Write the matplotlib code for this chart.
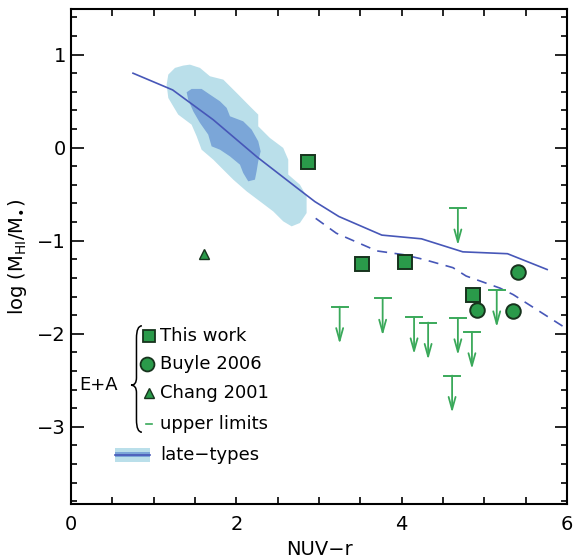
import matplotlib
matplotlib.use("Agg")
import matplotlib.pyplot as plt
from matplotlib.patches import Polygon, Rectangle
from matplotlib.path import Path
from matplotlib.patches import PathPatch
from matplotlib.ticker import MultipleLocator

# ---------------- data ----------------
# late-type median relation (solid) and extension (dashed)
late_x = [0.75, 1.23, 1.72, 2.25, 2.73, 2.95, 3.24, 3.76, 4.24, 4.74, 5.28, 5.76]
late_y = [0.80, 0.62, 0.30, -0.10, -0.43, -0.58, -0.74, -0.94, -0.98, -1.12, -1.14, -1.31]
dash_x = [2.96, 3.21, 3.70, 4.02, 4.26, 4.62, 4.78, 5.19, 5.35, 5.95]
dash_y = [-0.76, -0.92, -1.11, -1.15, -1.20, -1.29, -1.38, -1.51, -1.58, -1.92]

# late-type density contours (outer / inner)
outer_x = [1.439, 1.560, 1.681, 1.842, 2.004, 2.164, 2.265, 2.265, 2.406, 2.567, 2.628, 2.628,
           2.769, 2.850, 2.850, 2.769, 2.669, 2.567, 2.446, 2.285, 2.125, 1.963, 1.842, 1.721,
           1.580, 1.520, 1.459, 1.378, 1.297, 1.237, 1.177, 1.157, 1.177, 1.258, 1.358]
outer_y = [0.892, 0.857, 0.767, 0.731, 0.588, 0.444, 0.355, 0.229, 0.104, -0.003, -0.129, -0.290,
           -0.398, -0.524, -0.703, -0.810, -0.846, -0.792, -0.685, -0.577, -0.470, -0.344, -0.237, -0.129,
           -0.022, 0.122, 0.247, 0.301, 0.355, 0.444, 0.534, 0.677, 0.785, 0.857, 0.882]
inner_x = [1.459, 1.580, 1.681, 1.802, 1.883, 1.923, 2.083, 2.185, 2.265, 2.294, 2.265, 2.245,
           2.225, 2.144, 2.083, 2.044, 1.923, 1.802, 1.701, 1.660, 1.560, 1.479, 1.418, 1.399]
inner_y = [0.631, 0.631, 0.570, 0.498, 0.427, 0.337, 0.283, 0.194, 0.068, -0.040, -0.147, -0.255,
           -0.344, -0.362, -0.272, -0.183, -0.094, -0.022, 0.014, 0.140, 0.266, 0.390, 0.516, 0.595]

# E+A samples
this_x = [2.87, 3.52, 4.04, 4.86]
this_y = [-0.15, -1.25, -1.23, -1.58]
buyle_x = [4.91, 5.35, 5.41]
buyle_y = [-1.75, -1.76, -1.34]
chang_x = [1.61]
chang_y = [-1.14]
ul_x = [3.25, 3.77, 4.15, 4.32, 4.68, 4.68, 4.85, 4.61, 5.15]
ul_y = [-1.71, -1.62, -1.82, -1.88, -0.65, -1.83, -1.98, -2.45, -1.53]

# ---------------- style ----------------
light_blue = "#badfea"
mid_blue = "#7ba6d8"
line_blue = "#4757b8"
green = "#2a9a4a"
edge = "#17331d"
ul_green = "#3aa95a"

fig = plt.figure(figsize=(5.74, 5.58), dpi=100)
ax = fig.add_axes([71/574, 54/558, 496/574, 495/558])
ax.set_xlim(0, 6)
ax.set_ylim(-3.83, 1.49)

ax.add_patch(Polygon(list(zip(outer_x, outer_y)), closed=True, fc=light_blue, ec="none", zorder=1))
ax.add_patch(Polygon(list(zip(inner_x, inner_y)), closed=True, fc=mid_blue, ec="none", zorder=2))
ax.plot(late_x, late_y, color=line_blue, lw=1.2, zorder=3)
ax.plot(dash_x, dash_y, color=line_blue, lw=1.2, ls=(0, (6, 4.5)), zorder=3)

# upper limits
for x, y in zip(ul_x, ul_y):
    ax.plot([x - 0.095, x + 0.095], [y, y], color=ul_green, lw=1.4, zorder=4)
    ax.annotate("", xy=(x, y - 0.40), xytext=(x, y),
                arrowprops=dict(arrowstyle="->,head_length=0.9,head_width=0.25",
                                color=ul_green, lw=1.3, shrinkA=0, shrinkB=0), zorder=4)

ax.plot(this_x, this_y, ls="none", marker="s", ms=10, mfc=green, mec=edge, mew=1.4, zorder=5)
ax.plot(buyle_x, buyle_y, ls="none", marker="o", ms=10.5, mfc=green, mec=edge, mew=1.4, zorder=5)
ax.plot(chang_x, chang_y, ls="none", marker="^", ms=7, mfc=green, mec=edge, mew=1.0, zorder=5)

# ---------------- axes ----------------
for s in ax.spines.values():
    s.set_linewidth(1.5)
ax.xaxis.set_major_locator(MultipleLocator(2))
ax.xaxis.set_minor_locator(MultipleLocator(0.5))
ax.yaxis.set_major_locator(MultipleLocator(1))
ax.yaxis.set_minor_locator(MultipleLocator(0.2))
ax.tick_params(which="both", direction="in", top=True, right=True, width=1.2, labelsize=14)
ax.tick_params(axis="x", which="both", length=5)
ax.tick_params(axis="y", which="major", length=9)
ax.tick_params(axis="y", which="minor", length=4.5)
ax.tick_params(axis="x", pad=8)
ax.set_yticks([-3, -2, -1, 0, 1])
ax.set_yticklabels(["\u22123", "\u22122", "\u22121", "0", "1"])
ax.set_xticks([0, 2, 4, 6])
ax.set_xticklabels(["0", "2", "4", "6"])
ax.set_xlabel("NUV\u2212r", fontsize=14, labelpad=4)
ax.set_ylabel(r"log $(\mathrm{M}_{\mathrm{HI}}/\mathrm{M}_{\bullet})$", fontsize=14, labelpad=6)

# ---------------- hand-made legend ----------------
T = ax.transAxes
fs = 13
ax.plot([0.157], [0.339], transform=T, marker="s", ms=9, mfc=green, mec=edge, mew=1.3, clip_on=False)
ax.text(0.180, 0.339, "This work", transform=T, fontsize=fs, va="center")
ax.plot([0.153], [0.283], transform=T, marker="o", ms=10, mfc=green, mec=edge, mew=1.3, clip_on=False)
ax.text(0.180, 0.283, "Buyle 2006", transform=T, fontsize=fs, va="center")
ax.plot([0.157], [0.224], transform=T, marker="^", ms=7, mfc=green, mec=edge, mew=1.0, clip_on=False)
ax.text(0.180, 0.224, "Chang 2001", transform=T, fontsize=fs, va="center")
ax.plot([0.152, 0.164], [0.162, 0.162], transform=T, color=ul_green, lw=1.2)
ax.text(0.180, 0.162, "upper limits", transform=T, fontsize=fs, va="center")
ax.text(0.016, 0.240, "E+A", transform=T, fontsize=fs, va="center")

# curly brace
verts = [(0.143, 0.360),
         (0.132, 0.360), (0.132, 0.335),
         (0.132, 0.255),
         (0.132, 0.240), (0.121, 0.240),
         (0.132, 0.240), (0.132, 0.225),
         (0.132, 0.170),
         (0.132, 0.145), (0.143, 0.145)]
codes = [Path.MOVETO,
         Path.CURVE3, Path.CURVE3,
         Path.LINETO,
         Path.CURVE3, Path.CURVE3,
         Path.CURVE3, Path.CURVE3,
         Path.LINETO,
         Path.CURVE3, Path.CURVE3]
ax.add_patch(PathPatch(Path(verts, codes), transform=T, fc="none", ec="black", lw=1.1))

# late-types legend entry
ax.add_patch(Rectangle((0.089, 0.085), 0.070, 0.028, transform=T, fc=light_blue, ec="none"))
ax.add_patch(Rectangle((0.089, 0.094), 0.070, 0.011, transform=T, fc=mid_blue, ec="none"))
ax.plot([0.089, 0.159], [0.0995, 0.0995], transform=T, color=line_blue, lw=1.2)
ax.text(0.180, 0.099, "late\u2212types", transform=T, fontsize=fs, va="center")

fig.savefig("out.png", dpi=100)
